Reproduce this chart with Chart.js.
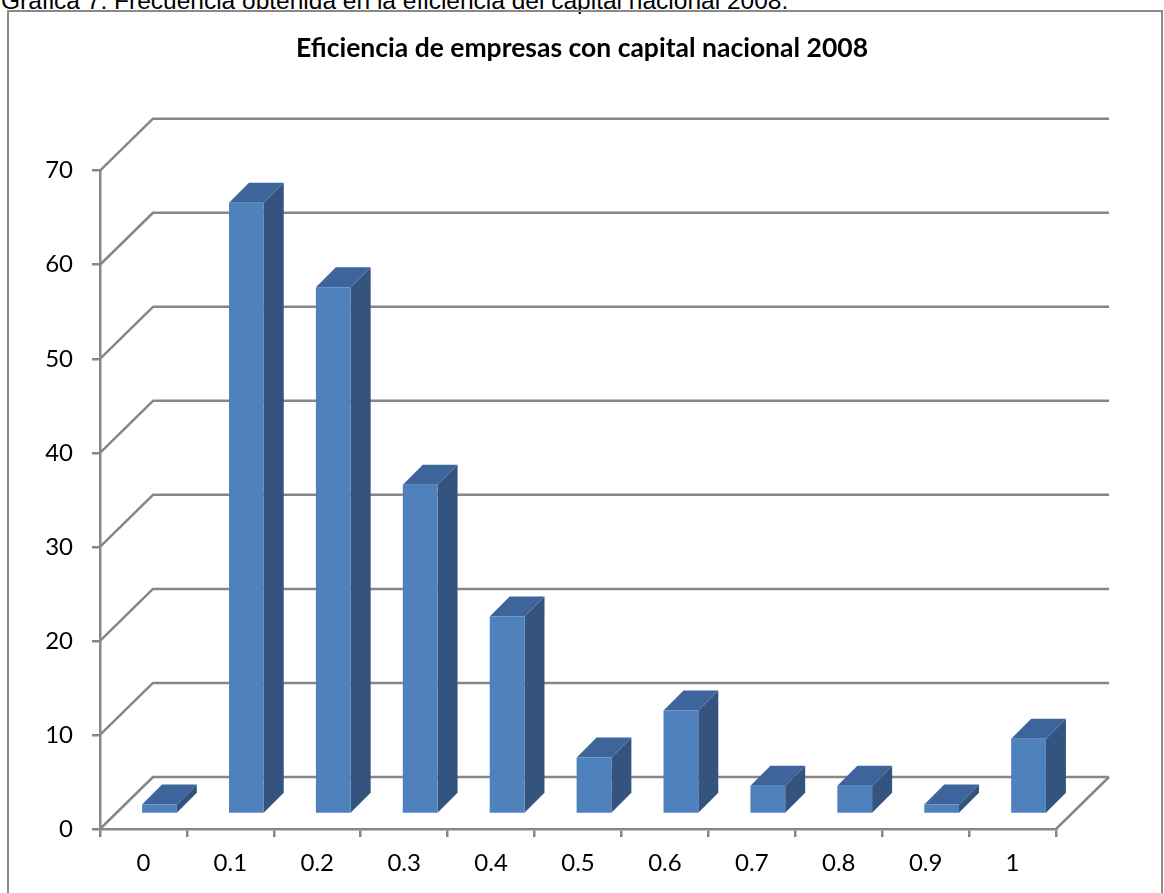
<!DOCTYPE html>
<html>
<head>
<meta charset="utf-8">
<script src="https://cdn.jsdelivr.net/npm/chart.js@4.4.0/dist/chart.umd.min.js"></script>
<style>
  body{margin:0;background:#fff;overflow:hidden;}
  #wrap{position:relative;width:1164px;height:893px;overflow:hidden;}
  #caption{position:absolute;left:1px;top:-11px;font:24.5px "Liberation Sans",Arial,sans-serif;line-height:24.5px;white-space:nowrap;color:#000;}
  #frame{position:absolute;left:7px;top:10px;width:1152px;height:900px;border:2px solid #8a8a8a;pointer-events:none;}
  canvas{position:absolute;left:0;top:0;}
</style>
</head>
<body>
<div id="wrap">
  <div id="caption">Gráfica 7. Frecuencia obtenida en la eficiencia del capital nacional 2008.</div>
  <canvas id="myChart" width="1164" height="893"></canvas>
  <div id="frame"></div>
</div>
<script>
// frecuencia por nivel de eficiencia
const categories = ['0','0.1','0.2','0.3','0.4','0.5','0.6','0.7','0.8','0.9','1'];
const frecuencias = [1,65,56,35,21,6,11,3,3,1,8];
const yTicks = [0,10,20,30,40,50,60,70];

const gridColor = '#878787';
const frontColor = '#4f81bd';
const topColor = '#3d649b';
const sideColor = '#34547f';

// perspective offsets (px): back wall, bar front plane, bar depth
const wallDepth = {x:53, y:-52};
const barShift = {x:16, y:-15};
const barDepth = {x:20, y:-20};

function poly(ctx, pts, color){
  ctx.fillStyle = color;
  ctx.beginPath();
  ctx.moveTo(pts[0][0], pts[0][1]);
  for(let i=1;i<pts.length;i++) ctx.lineTo(pts[i][0], pts[i][1]);
  ctx.closePath();
  ctx.fill();
}

const cube3d = {
  id: 'cube3d',
  beforeDatasetsDraw(chart){
    const {ctx, chartArea, scales} = chart;
    const y = scales.y;
    ctx.save();
    ctx.strokeStyle = gridColor;
    ctx.lineWidth = 2.5;
    ctx.lineJoin = 'round';
    yTicks.forEach(v => {
      const py = y.getPixelForValue(v);
      ctx.beginPath();
      ctx.moveTo(chartArea.left, py);
      ctx.lineTo(chartArea.left + wallDepth.x, py + wallDepth.y);
      ctx.lineTo(chartArea.right + wallDepth.x, py + wallDepth.y);
      ctx.stroke();
    });
    // right edge of the floor
    const p0 = y.getPixelForValue(0);
    ctx.beginPath();
    ctx.moveTo(chartArea.right, p0);
    ctx.lineTo(chartArea.right + wallDepth.x, p0 + wallDepth.y);
    ctx.stroke();
    ctx.restore();
  },
  afterDatasetsDraw(chart){
    const ctx = chart.ctx;
    const meta = chart.getDatasetMeta(0);
    ctx.save();
    meta.data.forEach(bar => {
      const p = bar.getProps(['x','y','base','width'], true);
      const x0 = p.x - p.width/2 + barShift.x;
      const x1 = p.x + p.width/2 + barShift.x;
      const y0 = p.y + barShift.y;
      const y1 = p.base + barShift.y;
      poly(ctx, [[x1,y0],[x1+barDepth.x,y0+barDepth.y],[x1+barDepth.x,y1+barDepth.y],[x1,y1]], sideColor);
      poly(ctx, [[x0,y0],[x0+barDepth.x,y0+barDepth.y],[x1+barDepth.x,y0+barDepth.y],[x1,y0]], topColor);
      poly(ctx, [[x0,y0],[x1,y0],[x1,y1],[x0,y1]], frontColor);
    });
    ctx.restore();
  }
};

const tickFont = {family:'Lato', size:24};

new Chart(document.getElementById('myChart'), {
  type: 'bar',
  data: {
    labels: categories,
    datasets: [{
      label: 'Frecuencia',
      data: frecuencias,
      backgroundColor: 'rgba(0,0,0,0)',
      borderWidth: 0,
      barPercentage: 0.4,
      categoryPercentage: 1
    }]
  },
  options: {
    responsive: false,
    animation: false,
    devicePixelRatio: 1,
    layout: {padding: 0},
    plugins: {
      legend: {display:false},
      tooltip: {enabled:false},
      title: {
        display: true,
        text: 'Eficiencia de empresas con capital nacional 2008',
        color: '#000',
        font: {family:'Lato', size:26.5, weight:'bold'},
        padding: {top:33, bottom:105.9}
      }
    },
    scales: {
      x: {
        grid: {offset:true, drawOnChartArea:false, tickLength:8, color:gridColor, lineWidth:2.5},
        border: {color:gridColor, width:2.5},
        ticks: {color:'#000', font:tickFont, padding:12},
        afterFit(s){ s.height = 64; }
      },
      y: {
        min: 0,
        max: 70,
        grid: {drawOnChartArea:false, tickLength:8, color:gridColor, lineWidth:2.5},
        border: {color:gridColor, width:2.5},
        ticks: {stepSize:10, color:'#000', font:tickFont, padding:19},
        afterFit(s){ s.width = 100; }
      },
      // empty strip on the right, keeps room for the back wall
      yRight: {
        position: 'right',
        min: 0,
        max: 70,
        grid: {display:false},
        border: {display:false},
        ticks: {display:false},
        afterFit(s){ s.width = 108; }
      }
    }
  },
  plugins: [cube3d]
});
</script>
</body>
</html>
